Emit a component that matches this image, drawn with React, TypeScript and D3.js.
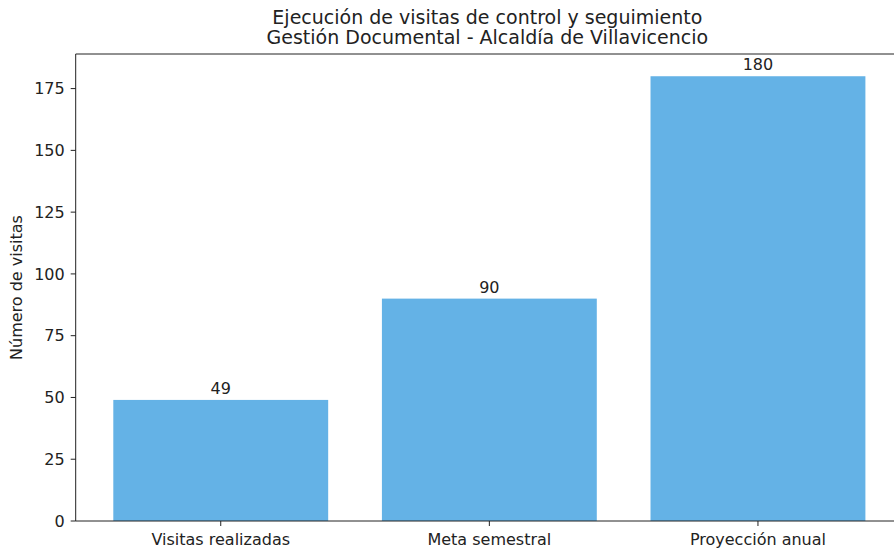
import React from "react";
import * as d3 from "d3";

const categories = ["Visitas realizadas", "Meta semestral", "Proyección anual"];
const values = [49, 90, 180];
const yTicks = [0, 25, 50, 75, 100, 125, 150, 175];
const titleLines = [
  "Ejecución de visitas de control y seguimiento",
  "Gestión Documental - Alcaldía de Villavicencio",
];
const yLabel = "Número de visitas";

const W = 894;
const H = 550;
const FONT = "'DejaVu Sans', sans-serif";

export default function App() {
  const left = 75.7;
  const right = 903;
  const top = 54;
  const bottom = 521;

  const x = d3.scaleLinear().domain([-0.54, 2.54]).range([left, right]);
  const y = d3.scaleLinear().domain([0, 189]).range([bottom, top]);
  const bw = x(0.4) - x(0);
  const cx = (left + right) / 2;

  return (
    <svg
      width={W}
      height={H}
      style={{ position: "absolute", left: 0, top: 0, background: "#fff" }}
      fontFamily={FONT}
    >
      <rect x={0} y={0} width={W} height={H} fill="#fff" />
      {titleLines.map((t, i) => (
        <text key={i} x={cx - 2} y={24 + i * 20} textAnchor="middle" fontSize={19} fill="#222">
          {t}
        </text>
      ))}
      {values.map((v, i) => (
        <g key={i}>
          <rect x={x(i) - bw} y={y(v)} width={bw * 2} height={bottom - y(v)} fill="#64b2e6" />
          <text x={x(i)} y={y(v) - 6} textAnchor="middle" fontSize={16} fill="#222">
            {v}
          </text>
        </g>
      ))}
      {/* spines */}
      <line x1={left} y1={top} x2={right} y2={top} stroke="#222" strokeWidth={1} />
      <line x1={left} y1={top} x2={left} y2={bottom} stroke="#222" strokeWidth={1} />
      <line x1={left} y1={bottom} x2={right} y2={bottom} stroke="#222" strokeWidth={1} />
      <line x1={right} y1={top} x2={right} y2={bottom} stroke="#222" strokeWidth={1} />
      {yTicks.map((t) => (
        <g key={t}>
          <line x1={left - 5} x2={left} y1={y(t)} y2={y(t)} stroke="#222" />
          <text x={left - 11} y={y(t)} dy="0.35em" textAnchor="end" fontSize={16} fill="#222">
            {t}
          </text>
        </g>
      ))}
      {categories.map((c, i) => (
        <g key={c}>
          <line x1={x(i)} x2={x(i)} y1={bottom} y2={bottom + 5} stroke="#222" />
          <text x={x(i)} y={bottom + 24} textAnchor="middle" fontSize={16} fill="#222">
            {c}
          </text>
        </g>
      ))}
      <text
        transform={`translate(22,${(top + bottom) / 2}) rotate(-90)`}
        textAnchor="middle"
        fontSize={16}
        fill="#222"
      >
        {yLabel}
      </text>
    </svg>
  );
}
